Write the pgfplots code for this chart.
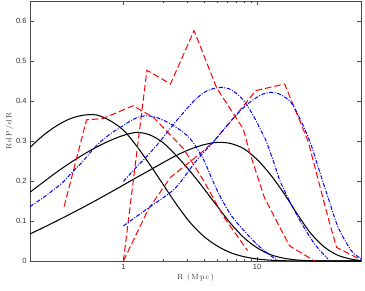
\documentclass[border=0pt]{standalone}
\usepackage{pgfplots}
\pgfplotsset{compat=1.18}
\usepackage{fontspec}
\setsansfont{Liberation Sans}
\begin{document}
\begin{tikzpicture}
\useasboundingbox (-30pt,-29pt) rectangle (335pt,261pt);
\begin{axis}[
  at={(0pt,0pt)}, anchor=south west,
  scale only axis, width=331pt, height=260pt,
  xmode=log, xmin=0.2, xmax=60, ymin=0, ymax=0.65,
  xtick={1,10}, xticklabels={1,10},
  ytick={0,0.1,0.2,0.3,0.4,0.5,0.6},
  minor y tick num=0,
  /pgf/number format/assume math mode=true,
  tick label style={font=\sffamily\fontsize{7.5}{9}\selectfont, text=black!80},
  axis line style={black!70, line width=0.6pt},
  every tick/.style={black!70, line width=0.5pt},
  major tick length=4pt, minor tick length=2pt,
  xlabel={R\,\ (\,M\,p\,c\,)}, ylabel={R\,d\,P\,/\,d\,R},
  label style={font=\fontsize{7.5}{9}\selectfont, text=black!80},
  xlabel style={at={(axis description cs:0.5,-0.065)}, anchor=center},
  ylabel style={at={(axis description cs:-0.062,0.5)}, anchor=center},
  clip=true,
]
% black solid curves
\addplot[black, line width=1.05pt, smooth] coordinates {
(0.2,0.284) (0.2512,0.314) (0.3162,0.338) (0.3981,0.3555) (0.5012,0.3645) (0.631,0.365) (0.7943,0.351) (1.0,0.327) (1.2589,0.287) (1.5849,0.240) (1.9953,0.190) (2.5119,0.140) (3.1623,0.096) (3.9811,0.062) (5.0119,0.038) (6.3096,0.021) (7.9433,0.011) (10,0.005) (12.589,0.002) (15.849,0.0007) (19.953,0.0002) (30,0) (60,0)};
\addplot[black, line width=1.05pt, smooth] coordinates {
(0.2,0.172) (0.2512,0.197) (0.3162,0.222) (0.3981,0.245) (0.5012,0.266) (0.631,0.285) (0.7943,0.301) (1.0,0.314) (1.2589,0.3215) (1.5849,0.315) (1.9953,0.295) (2.5119,0.262) (3.1623,0.224) (3.9811,0.182) (5.0119,0.138) (6.3096,0.095) (7.9433,0.059) (10,0.033) (12.589,0.016) (15.849,0.007) (19.953,0.0025) (25.119,0.0007) (40,0) (60,0)};
\addplot[black, line width=1.05pt, smooth] coordinates {
(0.2,0.0675) (0.2512,0.0835) (0.3162,0.100) (0.3981,0.117) (0.5012,0.1345) (0.631,0.1525) (0.7943,0.171) (1.0,0.190) (1.2589,0.209) (1.5849,0.2275) (1.9953,0.2465) (2.5119,0.2645) (3.1623,0.2795) (3.9811,0.2905) (5.0119,0.2965) (6.3096,0.294) (7.9433,0.281) (10,0.254) (12.589,0.216) (15.849,0.170) (19.953,0.118) (25.119,0.070) (31.623,0.036) (39.811,0.015) (50.119,0.005) (60,0.001)};
% red dashed
\addplot[red, line width=1.0pt, dash pattern=on 6.5pt off 3pt] coordinates {
(0.36,0.136) (0.53,0.353) (0.70,0.356) (1.18,0.388) (1.68,0.359) (2.83,0.280) (4.0,0.200) (5.67,0.109) (8.5,0.026)};
\addplot[red, line width=1.0pt, dash pattern=on 6.5pt off 3pt] coordinates {
(1,0) (1.5,0.477) (2.25,0.4425) (3.38,0.576) (5.0,0.432) (7.9,0.330) (8.8,0.272) (11.35,0.159) (17.5,0.038) (27,0)};
\addplot[red, line width=1.0pt, dash pattern=on 6.5pt off 3pt] coordinates {
(1,0) (1.54,0.130) (2.25,0.209) (4.0,0.276) (4.77,0.300) (6.74,0.359) (9.8,0.426) (16.1,0.4425) (24.1,0.300) (34,0.109) (39.4,0.034) (60,0.003)};
% blue dash-dot
\addplot[blue, line width=1.0pt, smooth, dash pattern=on 4pt off 1.5pt on 1pt off 1.5pt] coordinates {
(0.2,0.136) (0.25,0.158) (0.3,0.178) (0.35,0.196) (0.42,0.224) (0.5,0.250) (0.63,0.289) (0.8,0.318) (0.95,0.334) (1.2,0.355) (1.46,0.363) (1.8,0.358) (2.25,0.343) (2.8,0.322) (3.3,0.298) (4.0,0.252) (4.7,0.198) (5.35,0.159) (6.5,0.111) (8.5,0.066) (10.5,0.035) (12.7,0.013) (14.3,0.002)};
\addplot[blue, line width=1.0pt, smooth, dash pattern=on 4pt off 1.5pt on 1pt off 1.5pt] coordinates {
(1,0.199) (1.2,0.228) (1.64,0.276) (2.0,0.310) (2.38,0.3425) (3.37,0.400) (4.2,0.425) (5.35,0.434) (6.5,0.427) (8.0,0.400) (9.5,0.360) (10.7,0.326) (11.7,0.300) (13.5,0.242) (15.2,0.1925) (20.3,0.109) (27,0.0425) (34,0.005)};
\addplot[blue, line width=1.0pt, smooth, dash pattern=on 4pt off 1.5pt on 1pt off 1.5pt] coordinates {
(1,0.088) (1.09,0.0965) (1.5,0.130) (2.25,0.1715) (2.67,0.197) (3.5,0.250) (4.77,0.300) (6.37,0.350) (8,0.385) (9.55,0.405) (11,0.417) (12.7,0.4215) (15,0.416) (18,0.396) (21,0.355) (24.8,0.300) (29,0.230) (34,0.159) (40.5,0.084) (51,0.025) (61,0.005)};
\end{axis}
\end{tikzpicture}
\end{document}
